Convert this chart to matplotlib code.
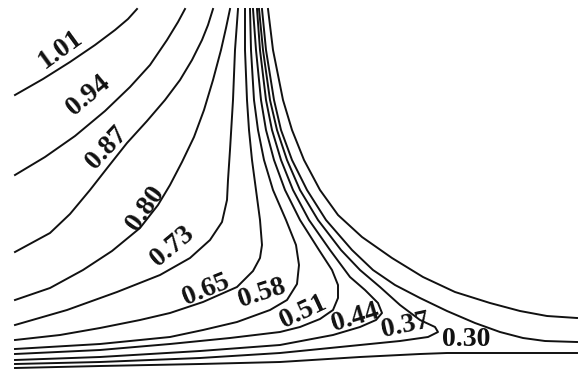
import matplotlib.pyplot as plt

plt.rcParams['font.family'] = ['Liberation Serif', 'DejaVu Serif']

# iso-levels, highest first
levels = [1.01, 0.94, 0.87, 0.80, 0.73, 0.65, 0.58, 0.51, 0.44, 0.37, 0.30, 0.23]

# traced iso-lines (x along the wall, y height above the wall)
x_101 = [15, 43, 70, 95, 115, 128, 137]
y_101 = [277, 293, 310, 327, 342, 353, 363]

x_094 = [15, 45, 75, 105, 130, 150, 167, 178, 185]
y_094 = [197, 215, 236, 261, 285, 307, 332, 350, 363]

x_087 = [15, 50, 70, 90, 108, 127, 147, 165, 180, 192, 202, 208, 213]
y_087 = [120, 139, 158, 182, 205, 229, 251, 272, 292, 312, 332, 347, 363]

x_080 = [15, 50, 83, 112, 140, 158, 170, 182, 194, 204, 213, 221, 226, 230]
y_080 = [72, 84, 102, 121, 144, 167, 187, 210, 235, 262, 292, 322, 344, 363]

x_073 = [15, 67, 117, 160, 190, 210, 222, 227, 228, 230, 233, 235, 238]
y_073 = [47, 62, 80, 97, 114, 132, 150, 172, 192, 222, 272, 322, 363]

x_065 = [15, 60, 100, 140, 170, 203, 237, 253, 260, 262, 260, 256, 252, 249, 247, 245, 245]
y_065 = [32, 37, 44, 52, 59, 70, 85, 101, 114, 127, 152, 182, 212, 242, 272, 322, 363]

x_058 = [15, 100, 170, 203, 237, 270, 287, 297, 299, 296, 286, 273, 264, 258, 254, 251, 250]
y_058 = [23, 28, 35, 42, 50, 62, 72, 88, 107, 127, 152, 182, 212, 242, 272, 322, 363]

x_051 = [15, 100, 170, 230, 280, 300, 320, 333, 338, 338, 332, 319, 300, 285, 274, 266,
         261, 256, 253]
y_051 = [18, 22, 28, 34, 40, 45, 53, 62, 74, 87, 102, 122, 152, 182, 212, 242,
         272, 322, 363]

x_044 = [15, 100, 200, 280, 333, 360, 376, 382, 378, 365, 350, 330, 309, 293, 281, 272,
         266, 260, 257]
y_044 = [12, 15, 21, 27, 37, 45, 52, 59, 69, 82, 95, 122, 152, 182, 212, 242,
         272, 322, 363]

x_037 = [15, 100, 200, 280, 350, 400, 428, 438, 435, 420, 400, 380, 360, 341, 318, 300,
         287, 277, 270, 263, 259]
y_037 = [8, 10, 14, 19, 26, 31, 35, 40, 45, 52, 67, 85, 102, 122, 152, 182,
         212, 242, 272, 322, 363]

# 0.30 has an upper branch and a branch along the wall
x_030a = [262, 266, 274, 281, 292, 307, 326, 352, 373, 395, 420, 447, 475, 500, 523, 545, 577]
y_030a = [363, 322, 272, 242, 212, 182, 152, 122, 102, 87, 74, 61, 49, 40, 34, 31, 30]
x_030b = [15, 100, 200, 280, 360, 420, 447, 577]
y_030b = [4, 6, 8, 10, 15, 18, 19, 19]

x_023 = [268, 273, 283, 292, 304, 320, 338, 362, 392, 423, 455, 490, 520, 547, 577]
y_023 = [363, 322, 272, 242, 212, 182, 157, 135, 114, 95, 80, 69, 61, 56, 54]

lines = [(x_101, y_101), (x_094, y_094), (x_087, y_087), (x_080, y_080),
         (x_073, y_073), (x_065, y_065), (x_058, y_058), (x_051, y_051),
         (x_044, y_044), (x_037, y_037), (x_030a, y_030a), (x_030b, y_030b),
         (x_023, y_023)]

# where each labelled level gets its tag, and its tilt
label_x = [61, 88, 107, 146, 172, 206, 262, 303, 355, 405, 466]
label_y = [323, 277, 224, 163, 126, 82, 79, 60, 54, 46, 33]
label_rot = [36, 40, 47, 55, 40, 22, 18, 25, 17, 12, 0]

fig = plt.figure(figsize=(5.79, 3.76), dpi=100)
ax = fig.add_axes([0, 0, 1, 1])

for xs, ys in lines:
    ax.plot(xs, ys, color='#111111', lw=1.4, solid_joinstyle='round')

for lev, lx, ly, rot in zip(levels, label_x, label_y, label_rot):
    ax.text(lx, ly, f'{lev:.2f}', rotation=rot, rotation_mode='anchor',
            ha='center', va='center', fontsize=20, fontweight='bold', color='#111111')

ax.set_xlim(0, 579)
ax.set_ylim(-4, 372)
ax.axis('off')

fig.savefig('out.png', dpi=100)
